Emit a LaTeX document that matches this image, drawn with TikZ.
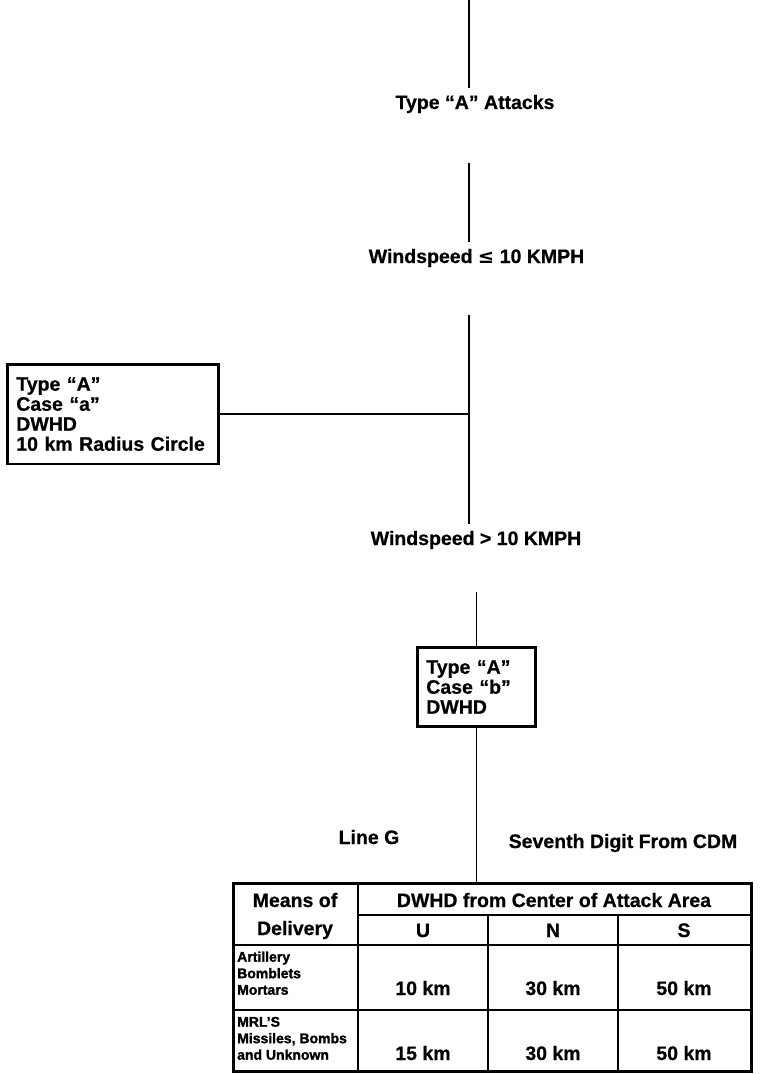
\documentclass[tikz,border=0pt]{standalone}
\usepackage{fontspec}
\setmainfont{Liberation Sans}[BoldFeatures={FakeBold=0.6}]
\newfontfamily\heavyfont{Liberation Sans}[BoldFeatures={FakeBold=1.6}]
\newfontfamily\symbolfont{DejaVu Sans}
\tikzstyle{condition} = [
inner xsep=0pt,
inner ysep=7pt,
anchor=base
]
\tikzstyle{casebox} = [
rectangle,
draw,
line width=2.6pt,
align=left,
inner xsep=9pt,
inner ysep=13pt,
anchor=north west
]
\tikzstyle{means} = [
inner sep=0pt,
align=left,
anchor=south west,
font=\heavyfont\fontsize{14}{16.5}\selectfont\bfseries
]
\tikzstyle{cell} = [inner sep=0pt, anchor=base]
\tikzstyle{tableframe} = [rectangle, draw, line width=2.8pt, inner sep=0pt]
\tikzstyle{tablerule} = [draw, line width=1.8pt]
\tikzstyle{connector} = [draw, line width=1.3pt]

\begin{document}
\begin{tikzpicture}[x=1pt, y=-1pt, font=\fontsize{19.5}{20}\selectfont\bfseries]
  \useasboundingbox (0,0) rectangle (760,1074);
  % Place nodes
  \coordinate (stem) at (469,0);
  \node [condition] (attacks) at (475,109) {Type “A” Attacks};
  \node [condition] (leq) at (476.5,263) {Windspeed {\symbolfont ≤} 10 KMPH};
  \node [casebox, text width=193pt] (casea) at (6,363) {Type “A”\\Case “a”\\DWHD\\10 km Radius Circle};
  \node [condition] (gt) at (476,545) {Windspeed > 10 KMPH};
  \node [casebox, text width=100pt] (caseb) at (416,646) {Type “A”\\Case “b”\\DWHD};
  \node [condition] (lineg) at (369,844) {Line G};
  \node [condition] (digit) at (623,848) {Seventh Digit From CDM};

  % Table
  \node [tableframe, anchor=north west, minimum width=518pt, minimum height=188pt] (table) at (232,882) {};
  \path [tablerule] (358,882) -- (358,1072);
  \path [tablerule] (358,915) -- (750,915);
  \path [tablerule] (488,915) -- (488,1072);
  \path [tablerule] (618,915) -- (618,1072);
  \path [tablerule] (232,945) -- (750,945);
  \path [tablerule] (232,1010) -- (750,1010);

  \node [cell] (meansof) at (295,907) {Means of};
  \node [cell] (delivery) at (295,935) {Delivery};
  \node [cell] (dwhd) at (554,907) {DWHD from Center of Attack Area};
  \node [cell] (colU) at (423,937) {U};
  \node [cell] (colN) at (553,937) {N};
  \node [cell] (colS) at (684,937) {S};
  \node [means] (artillery) at (237,995) {Artillery\\Bomblets\\Mortars};
  \node [means] (mrl) at (237,1060) {MRL’S\\Missiles, Bombs\\and Unknown};
  \node [cell] (artU) at (423,995) {10 km};
  \node [cell] (artN) at (553,995) {30 km};
  \node [cell] (artS) at (684,995) {50 km};
  \node [cell] (mrlU) at (423,1060) {15 km};
  \node [cell] (mrlN) at (553,1060) {30 km};
  \node [cell] (mrlS) at (684,1060) {50 km};

  % Draw edges
  \path [connector] (stem) -- (attacks.north -| stem);
  \path [connector, shorten <=43pt] (attacks.south -| stem) -- (leq.north -| stem);
  \path [connector, shorten <=41pt] (leq.south -| stem) -- (gt.north -| stem);
  \path [connector] (casea.east) -- (casea.east -| stem);
  \path [connector, shorten <=36pt] (gt.south -| caseb.north) -- (caseb.north);
  \path [connector] (caseb.south) -- (caseb.south |- table.north);

\end{tikzpicture}
\end{document}
